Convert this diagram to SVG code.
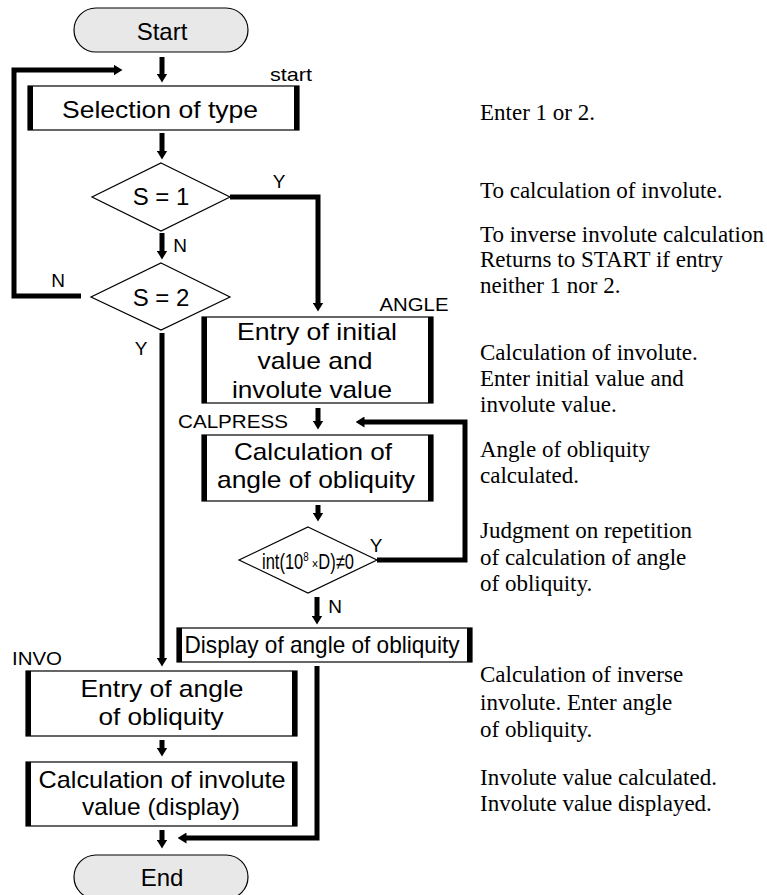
<svg xmlns="http://www.w3.org/2000/svg" width="767" height="895" viewBox="0 0 767 895">
<style>
.term{fill:#e8e8e8;stroke:#000;stroke-width:1.2}
.box{fill:#fff;stroke:#000;stroke-width:1.2}
.bar{fill:#000}
.dia{fill:#fff;stroke:#000;stroke-width:1.2}
.t{font-family:"Liberation Sans",Arial,sans-serif;font-size:24px;fill:#000;text-anchor:middle}
.lb{font-family:"Liberation Sans",Arial,sans-serif;font-size:19px;fill:#000;text-anchor:middle}
.note{font-family:"Liberation Serif","Times New Roman",serif;font-size:23px;fill:#000}
.c{fill:none;stroke:#000;stroke-width:5;stroke-linejoin:miter}
</style>
<defs>
<marker id="ah" viewBox="0 0 9 11" refX="0.5" refY="5.5" markerWidth="9" markerHeight="11" markerUnits="userSpaceOnUse" orient="auto">
<path d="M0,0 L9,5.5 L0,11 z" fill="#000"/>
</marker>
</defs>

<g id="connectors">
<path class="c" d="M162,57 V74" marker-end="url(#ah)"/>
<path class="c" d="M162,133 V151" marker-end="url(#ah)"/>
<path class="c" d="M162,233 V251" marker-end="url(#ah)"/>
<path class="c" d="M230,197 H318 V303" marker-end="url(#ah)"/>
<path class="c" d="M81,296 H14 V70 H114" marker-end="url(#ah)"/>
<path class="c" d="M162,333 V658" marker-end="url(#ah)"/>
<path class="c" d="M318,408 V421" marker-end="url(#ah)"/>
<path class="c" d="M377,560 H465 V422 H364" marker-end="url(#ah)"/>
<path class="c" d="M318,505 V513" marker-end="url(#ah)"/>
<path class="c" d="M317,597 V616" marker-end="url(#ah)"/>
<path class="c" d="M317,666 V838 H186" marker-end="url(#ah)"/>
<path class="c" d="M162,740 V748" marker-end="url(#ah)"/>
<path class="c" d="M162,830 V840" marker-end="url(#ah)"/>
<text class="lb" x="279" y="188">Y</text>
<text class="lb" x="180" y="252">N</text>
<text class="lb" x="58" y="287">N</text>
<text class="lb" x="141" y="355">Y</text>
<text class="lb" x="376" y="552">Y</text>
<text class="lb" x="335" y="613">N</text>
</g>

<g id="start">
<rect class="term" x="74" y="8" width="174" height="44" rx="22"/>
<text class="t" x="162" y="40" font-size="25">Start</text>
</g>

<g id="selection">
<rect class="box" x="28" y="86" width="271" height="44"/>
<rect class="bar" x="28" y="86" width="5" height="44"/>
<rect class="bar" x="294" y="86" width="5" height="44"/>
<text class="t" x="160" y="118" textLength="196" lengthAdjust="spacingAndGlyphs">Selection of type</text>
<text class="lb" x="291" y="81" textLength="42" lengthAdjust="spacingAndGlyphs">start</text>
</g>

<g id="s1">
<polygon class="dia" points="161,163 230,197 161,231 92,197"/>
<text class="t" x="161" y="205" font-size="25">S = 1</text>
</g>

<g id="s2">
<polygon class="dia" points="161,263 230,297 161,330 91,297"/>
<text class="t" x="161" y="306" font-size="25">S = 2</text>
</g>

<g id="angle">
<rect class="box" x="202" y="317" width="231" height="86"/>
<rect class="bar" x="202" y="317" width="5" height="86"/>
<rect class="bar" x="428" y="317" width="5" height="86"/>
<text class="t" x="317" y="340" textLength="160" lengthAdjust="spacingAndGlyphs">Entry of initial</text>
<text class="t" x="315" y="369" textLength="115" lengthAdjust="spacingAndGlyphs">value and</text>
<text class="t" x="312" y="398" textLength="160" lengthAdjust="spacingAndGlyphs">involute value</text>
<text class="lb" x="414" y="311" textLength="69" lengthAdjust="spacingAndGlyphs">ANGLE</text>
</g>

<g id="calpress">
<rect class="box" x="202" y="435" width="231" height="66"/>
<rect class="bar" x="202" y="435" width="5" height="66"/>
<rect class="bar" x="428" y="435" width="5" height="66"/>
<text class="t" x="313" y="460" textLength="158" lengthAdjust="spacingAndGlyphs">Calculation of</text>
<text class="t" x="316" y="488" textLength="198" lengthAdjust="spacingAndGlyphs">angle of obliquity</text>
<text class="lb" x="233" y="428" textLength="110" lengthAdjust="spacingAndGlyphs">CALPRESS</text>
</g>

<g id="judge">
<polygon class="dia" points="308,527 377,560 308,593 239,560"/>
<text transform="translate(262 569) scale(0.75 1)" font-family="'Liberation Sans',Arial,sans-serif" font-size="22">int(10<tspan font-size="13" baseline-shift="8">8</tspan><tspan font-size="15"> ×</tspan>D)≠0</text>
</g>

<g id="display">
<rect class="box" x="177" y="628" width="295" height="34"/>
<rect class="bar" x="177" y="628" width="5" height="34"/>
<rect class="bar" x="467" y="628" width="5" height="34"/>
<text class="t" x="322" y="653" textLength="275" lengthAdjust="spacingAndGlyphs">Display of angle of obliquity</text>
</g>

<g id="invo">
<rect class="box" x="26" y="671" width="271" height="65"/>
<rect class="bar" x="26" y="671" width="5" height="65"/>
<rect class="bar" x="292" y="671" width="5" height="65"/>
<text class="t" x="162" y="697" textLength="163" lengthAdjust="spacingAndGlyphs">Entry of angle</text>
<text class="t" x="161" y="725" textLength="125" lengthAdjust="spacingAndGlyphs">of obliquity</text>
<text class="lb" x="37" y="665" textLength="50" lengthAdjust="spacingAndGlyphs">INVO</text>
</g>

<g id="calcinv">
<rect class="box" x="26" y="762" width="271" height="64"/>
<rect class="bar" x="26" y="762" width="5" height="64"/>
<rect class="bar" x="292" y="762" width="5" height="64"/>
<text class="t" x="162" y="788" textLength="247" lengthAdjust="spacingAndGlyphs">Calculation of involute</text>
<text class="t" x="161" y="815" textLength="158" lengthAdjust="spacingAndGlyphs">value (display)</text>
</g>

<g id="end">
<rect class="term" x="74" y="855" width="174" height="44" rx="22"/>
<text class="t" x="162" y="886" font-size="25">End</text>
</g>

<g id="notes">
<text class="note" x="480" y="120">Enter 1 or 2.</text>
<text class="note" x="480" y="198">To calculation of involute.</text>
<text class="note" x="480" y="242">To inverse involute calculation</text>
<text class="note" x="480" y="267">Returns to START if entry</text>
<text class="note" x="480" y="293">neither 1 nor 2.</text>
<text class="note" x="480" y="360">Calculation of involute.</text>
<text class="note" x="480" y="386">Enter initial value and</text>
<text class="note" x="480" y="412">involute value.</text>
<text class="note" x="480" y="457">Angle of obliquity</text>
<text class="note" x="480" y="483">calculated.</text>
<text class="note" x="480" y="538">Judgment on repetition</text>
<text class="note" x="480" y="565">of calculation of angle</text>
<text class="note" x="480" y="591">of obliquity.</text>
<text class="note" x="480" y="682">Calculation of inverse</text>
<text class="note" x="480" y="710">involute. Enter angle</text>
<text class="note" x="480" y="737">of obliquity.</text>
<text class="note" x="480" y="785">Involute value calculated.</text>
<text class="note" x="480" y="811">Involute value displayed.</text>
</g>
</svg>
